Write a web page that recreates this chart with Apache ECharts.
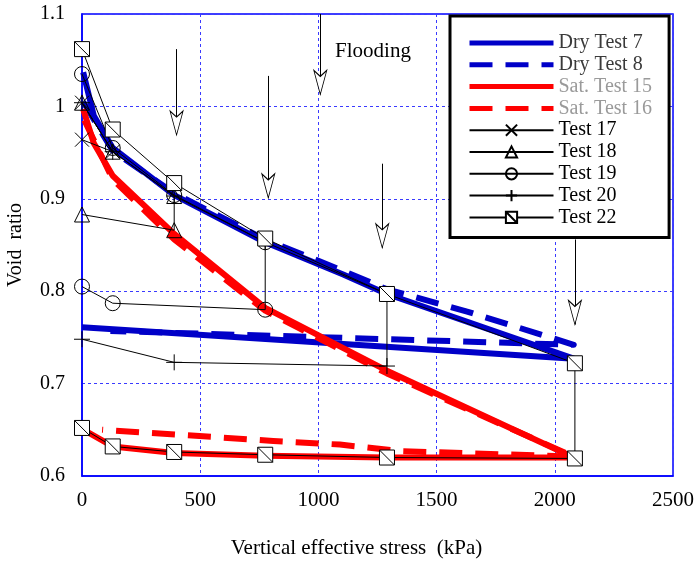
<!DOCTYPE html>
<html>
<head>
<meta charset="utf-8">
<script src="https://cdn.jsdelivr.net/npm/echarts@6/dist/echarts.min.js"></script>
<style>
html,body{margin:0;padding:0;background:#fff;}
#chart{width:694px;height:561px;}
</style>
</head>
<body>
<div id="chart"></div>
<script>
// ---- Data: [vertical effective stress (kPa), void ratio] ----
const dryTest7 = [[5,1.037],[50,0.99],[130,0.955],[390,0.904],[775,0.853],[1105,0.818],[1290,0.797],[2080,0.727],[0,0.761]];
const dryTest8 = [[5,1.005],[130,0.952],[390,0.906],[775,0.856],[1105,0.822],[1290,0.802],[1629,0.778],[2080,0.742],[120,0.757]];
const satTest15 = [[5,0.997],[50,0.96],[130,0.925],[390,0.862],[775,0.782],[1290,0.714],[2080,0.62],[1290,0.62],[775,0.622],[390,0.625],[130,0.632],[20,0.648]];
const satTest16 = [[10,0.985],[130,0.921],[390,0.856],[775,0.779],[1290,0.711],[2080,0.621],[1345,0.627],[1091,0.634],[809,0.638],[85,0.65]];
const test17 = [[0,1.004],[130,0.951],[0,0.964]];
const test18 = [[0,1.004],[130,0.951],[390,0.903],[390,0.866],[0,0.883]];
const test19 = [[0,1.035],[130,0.955],[390,0.904],[775,0.853],[775,0.780],[130,0.787],[0,0.805]];
const test20 = [[0,1.004],[130,0.951],[390,0.903],[775,0.853],[1290,0.797],[1290,0.719],[390,0.723],[0,0.748]];
const test22 = [[0,1.062],[130,0.975],[390,0.917],[775,0.857],[1290,0.797],[2085,0.722],[2085,0.619],[1290,0.620],[775,0.623],[390,0.626],[130,0.632],[0,0.652]];
// flooding arrows: stress, top of shaft, arrow tip
const arrowStress = [400, 788, 1008, 1270, 2085];
const arrowTop = [1.062, 1.033, 1.1, 0.938, 0.856];
const arrowTip = [0.969, 0.901, 1.013, 0.847, 0.764];
const floodLabel = {text: 'Flooding', stress: 1231, ratio: 1.059};
const legendNames = ['Dry Test 7','Dry Test 8','Sat. Test 15','Sat. Test 16','Test 17','Test 18','Test 19','Test 20','Test 22'];
const xTicks = {min: 0, max: 2500, step: 500};
const yTicks = {min: 0.6, max: 1.1, step: 0.1};

const FONT = 'Liberation Serif';
const BLUE = '#0000c8';
const RED = '#ff0000';
const GRIDBLUE = '#3a3aff';

const SQ = 'path://M0,0 L14,0 L14,14 L0,14 Z M0,0 L14,14';
const XS = 'path://M0,0 L14,14 M14,0 L0,14';
const PL = 'path://M8,0 L8,16 M0,8 L16,8';
const NOSYM = 'path://M0,0 L1,0 L1,1 Z';
const ARROWHEAD = 'path://M0,0 L6.5,6 L13,0 L6.5,24 Z';

function thick(name, data, color, dashed) {
  return {
    name, type: 'line', data, symbol: NOSYM, showSymbol: false, symbolSize: 0, z: 2,
    lineStyle: {color, width: 6, type: dashed ? [23, 13] : 'solid', cap: 'butt', join: 'round'},
    itemStyle: {color},
    animation: false
  };
}
function thin(name, data, symbol, size, fill) {
  return {
    name, type: 'line', data, symbol, symbolSize: size, symbolKeepAspect: true, showSymbol: true, z: 3,
    lineStyle: {color: '#000', width: 1},
    itemStyle: {color: fill, borderColor: '#000', borderWidth: 1},
    animation: false
  };
}

const chart = echarts.init(document.getElementById('chart'), null, {renderer: 'canvas'});
const arrowLines = arrowStress.map((s, i) => [{coord: [s, arrowTop[i]]}, {coord: [s, arrowTip[i]]}]);
const arrowHeads = arrowStress.map((s, i) => [s, arrowTip[i]]);

chart.setOption({
  backgroundColor: '#fff',
  animation: false,
  textStyle: {fontFamily: FONT},
  grid: {left: 82, right: 21, top: 14, bottom: 85, outerBoundsMode: 'none', containLabel: false,
         show: true, borderColor: '#0000ff', borderWidth: 1.5, backgroundColor: 'transparent'},
  xAxis: {
    type: 'value', min: xTicks.min, max: xTicks.max, interval: xTicks.step,
    name: 'Vertical effective stress  (kPa)', nameLocation: 'middle', nameGap: 62,
    nameTextStyle: {fontFamily: FONT, fontSize: 21, color: '#000', padding: [0, 42, 0, 0]},
    axisLine: {show: true, lineStyle: {color: '#0000ff', width: 1.5}},
    axisTick: {show: false},
    axisLabel: {fontFamily: FONT, fontSize: 21, color: '#000', margin: 14, formatter: v => String(v), hideOverlap: false, showMaxLabel: true},
    splitLine: {show: true, lineStyle: {color: GRIDBLUE, width: 1, type: [3, 3]}}
  },
  yAxis: {
    type: 'value', min: yTicks.min, max: yTicks.max, interval: yTicks.step,
    name: 'Void  ratio', nameLocation: 'middle', nameGap: 56, nameRotate: 90,
    nameTextStyle: {fontFamily: FONT, fontSize: 20, color: '#000'},
    axisLine: {show: true, lineStyle: {color: '#0000ff', width: 1.5}},
    axisTick: {show: false},
    axisLabel: {fontFamily: FONT, fontSize: 20, color: '#000', margin: 17, formatter: v => String(+v.toFixed(1))},
    splitLine: {show: true, lineStyle: {color: GRIDBLUE, width: 1, type: [3, 3]}}
  },
  legend: {
    orient: 'vertical', left: 450, top: 16,
    padding: [17, 17, 10, 17],
    backgroundColor: '#fff', borderColor: '#000', borderWidth: 3,
    itemWidth: 84, itemHeight: 14, itemGap: 1.8,
    textStyle: {fontFamily: FONT, fontSize: 20, color: '#000'},
    data: legendNames.map((n, i) => {
      const item = {name: n, textStyle: {color: i < 2 ? '#3a3a3a' : (i < 4 ? '#9a9a9a' : '#000')}};
      if (i < 4) {
        item.itemStyle = {color: 'rgba(0,0,0,0)', borderWidth: 0, opacity: 0};
        item.lineStyle = {width: 5};
      }
      return item;
    }),
    z: 20
  },
  series: [
    thick(legendNames[0], dryTest7, BLUE, false),
    thick(legendNames[1], dryTest8, BLUE, true),
    thick(legendNames[2], satTest15, RED, false),
    thick(legendNames[3], satTest16, RED, true),
    thin(legendNames[4], test17, XS, 14, 'rgba(0,0,0,0)'),
    thin(legendNames[5], test18, 'triangle', 15, 'rgba(0,0,0,0)'),
    thin(legendNames[6], test19, 'circle', 15, 'rgba(0,0,0,0)'),
    thin(legendNames[7], test20, PL, 16, 'rgba(0,0,0,0)'),
    thin(legendNames[8], test22, SQ, 15, '#fff'),
    {
      type: 'scatter', data: [], z: 4, clip: false, silent: true,
      markLine: {
        silent: true, symbol: ['none', 'none'], animation: false,
        lineStyle: {color: '#000', width: 1, type: 'solid'},
        label: {show: false},
        data: arrowLines
      },
      markPoint: {
        silent: true, animation: false, symbol: 'rect', symbolSize: 1,
        itemStyle: {color: 'rgba(0,0,0,0)'},
        label: {show: true, position: 'inside', formatter: floodLabel.text, fontFamily: FONT, fontSize: 21, color: '#000'},
        data: [{coord: [floodLabel.stress, floodLabel.ratio]}]
      }
    },
    {
      type: 'scatter', data: arrowHeads, z: 5, clip: false, silent: true,
      symbol: ARROWHEAD, symbolSize: [13, 24], symbolOffset: [0, -12],
      itemStyle: {color: '#fff', borderColor: '#000', borderWidth: 1, opacity: 1}
    }
  ]
});
</script>
</body>
</html>
